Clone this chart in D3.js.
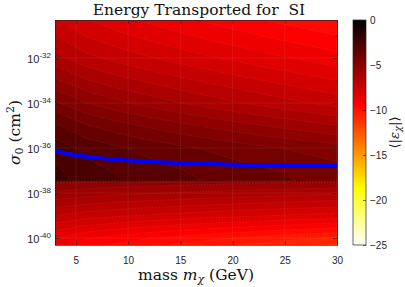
<!DOCTYPE html>
<html>
<head>
<meta charset="utf-8">
<script src="https://cdn.jsdelivr.net/npm/d3@7"></script>
<style>
  body { margin: 0; background: #fff; }
  svg { display: block; }
  .tick text { font-family: "Liberation Sans", Arial, sans-serif; font-size: 10px; fill: #262626; }
</style>
</head>
<body>
<svg id="chart" width="405" height="287"></svg>
<script>
// grid of the field (rows = log10 sigma, cols = mass)
const masses = [3, 6, 9, 12, 15, 18, 21, 24, 27, 30]
const logSigma = [-40.5, -40, -39, -38, -37.55, -37.45, -37, -36, -35, -34, -33, -32, -31, -30]
const energy = [
  [-9.0, -9.52, -9.84, -10.11, -10.36, -10.59, -10.81, -11.01, -11.21, -11.4],
  [-8.5, -8.95, -9.23, -9.47, -9.69, -9.89, -10.08, -10.26, -10.43, -10.6],
  [-7.0, -7.26, -7.42, -7.56, -7.68, -7.80, -7.90, -8.01, -8.11, -8.2],
  [-5.6, -5.77, -5.88, -5.97, -6.05, -6.13, -6.20, -6.27, -6.34, -6.4],
  [-5.0, -5.13, -5.21, -5.28, -5.34, -5.40, -5.45, -5.50, -5.55, -5.6],
  [-2.3, -2.71, -2.96, -3.18, -3.38, -3.56, -3.73, -3.89, -4.05, -4.2],
  [-2.4, -2.81, -3.06, -3.28, -3.48, -3.66, -3.83, -3.99, -4.15, -4.3],
  [-2.7, -3.15, -3.43, -3.67, -3.89, -4.09, -4.28, -4.46, -4.63, -4.8],
  [-3.4, -3.96, -4.31, -4.60, -4.87, -5.12, -5.36, -5.58, -5.79, -6.0],
  [-4.4, -5.0, -5.38, -5.70, -5.99, -6.26, -6.51, -6.75, -6.98, -7.2],
  [-5.4, -5.96, -6.31, -6.60, -6.87, -7.12, -7.36, -7.58, -7.79, -8.0],
  [-6.3, -6.84, -7.17, -7.46, -7.72, -7.96, -8.18, -8.40, -8.60, -8.8],
  [-7.0, -7.54, -7.87, -8.16, -8.42, -8.66, -8.88, -9.10, -9.30, -9.5],
  [-7.6, -8.16, -8.51, -8.80, -9.07, -9.32, -9.56, -9.78, -9.99, -10.2]
]
// blue curve
const lineMass = [3, 5, 7.5, 10, 12.5, 15, 20, 25, 30]
const lineLogSigma = [-36.13, -36.32, -36.46, -36.55, -36.62, -36.67, -36.74, -36.78, -36.8]

const xTicks = [5, 10, 15, 20, 25, 30]
const yTickExp = [-40, -38, -36, -34, -32]
const yMinorExp = [-39, -37, -35, -33, -31]
const cbTicks = [0, -5, -10, -15, -20, -25]

const plot = {left: 55, right: 337, top: 20, bottom: 245}
const cb = {left: 353, right: 366}
const serif = '"DejaVu Serif", "Liberation Serif", serif'

let svg = d3.select('#chart')

let x = d3.scaleLinear().domain([3, 30]).range([plot.left, plot.right])
let y = d3.scaleLog().domain([Math.pow(10, -40.31), Math.pow(10, -30.31)]).range([plot.bottom, plot.top])

// reversed "hot" colormap, 0 -> black, -25 -> white
function hotR(v) {
  let s = Math.max(0, Math.min(1, -v / 25))
  let r = Math.min(1, s / 0.375)
  let g = Math.max(0, Math.min(1, (s - 0.375) / 0.375))
  let b = Math.max(0, Math.min(1, (s - 0.75) / 0.25))
  return d3.rgb(r * 255, g * 255, b * 255).toString()
}

svg.append('defs').append('clipPath').attr('id', 'clip')
  .append('rect')
  .attr('x', plot.left).attr('y', plot.top)
  .attr('width', plot.right - plot.left).attr('height', plot.bottom - plot.top)

// filled contours
let nx = masses.length, ny = logSigma.length
let flat = []
for (let j = 0; j < ny; j++) for (let i = 0; i < nx; i++) flat.push(energy[j][i])

let thresholds = d3.range(-25, 0, 0.5)
let contours = d3.contours().size([nx, ny]).thresholds(thresholds)(flat)

let mIdx = d3.scaleLinear().domain(d3.range(nx)).range(masses)
let lIdx = d3.scaleLinear().domain(d3.range(ny)).range(logSigma)
let proj = d3.geoTransform({
  point: function(px, py) {
    this.stream.point(x(mIdx(px - 0.5)), y(Math.pow(10, lIdx(py - 0.5))))
  }
})
let path = d3.geoPath(proj)

let field = svg.append('g').attr('clip-path', 'url(#clip)')
field.append('rect')
  .attr('x', plot.left).attr('y', plot.top)
  .attr('width', plot.right - plot.left).attr('height', plot.bottom - plot.top)
  .attr('fill', hotR(-12))
field.selectAll('path.band')
  .data(contours)
  .enter()
  .append('path')
  .attr('class', 'band')
  .attr('d', path)
  .attr('fill', d => hotR(d.value + 0.25))
  .attr('stroke', 'rgba(255,255,255,0.13)')
  .attr('stroke-width', 0.6)
  .attr('stroke-dasharray', '1.5 1.5')

// faint grid
field.selectAll('line.gx')
  .data(xTicks)
  .enter().append('line')
  .attr('x1', d => x(d)).attr('x2', d => x(d))
  .attr('y1', plot.top).attr('y2', plot.bottom)
  .attr('stroke', 'rgba(255,255,255,0.09)').attr('stroke-width', 0.8)
field.selectAll('line.gy')
  .data(yTickExp)
  .enter().append('line')
  .attr('y1', d => y(Math.pow(10, d))).attr('y2', d => y(Math.pow(10, d)))
  .attr('x1', plot.left).attr('x2', plot.right)
  .attr('stroke', 'rgba(255,255,255,0.09)').attr('stroke-width', 0.8)

// blue line
let line = d3.line()
  .x((d, i) => x(lineMass[i]))
  .y((d, i) => y(Math.pow(10, lineLogSigma[i])))
  .curve(d3.curveNatural)
field.append('path')
  .attr('d', line(lineMass))
  .attr('fill', 'none')
  .attr('stroke', '#0000ff')
  .attr('stroke-width', 4)

// axes (box with inward ticks)
let axisColor = '#262626'
svg.append('g').attr('transform', `translate(0,${plot.bottom})`)
  .call(d3.axisBottom(x).tickValues(xTicks).tickSizeInner(-4).tickSizeOuter(0).tickPadding(12))
svg.append('g').attr('transform', `translate(0,${plot.top})`)
  .call(d3.axisTop(x).tickValues(xTicks).tickSizeInner(-4).tickSizeOuter(0).tickFormat(''))

let yAll = yTickExp.map(e => Math.pow(10, e))
let yMinor = yMinorExp.map(e => Math.pow(10, e))
svg.append('g').attr('transform', `translate(${plot.left},0)`)
  .call(d3.axisLeft(y).tickValues(yAll).tickSizeInner(-4).tickSizeOuter(0).tickFormat(''))
svg.append('g').attr('transform', `translate(${plot.right},0)`)
  .call(d3.axisRight(y).tickValues(yAll).tickSizeInner(-4).tickSizeOuter(0).tickFormat(''))
svg.append('g').attr('transform', `translate(${plot.left},0)`)
  .call(d3.axisLeft(y).tickValues(yMinor).tickSizeInner(-2).tickSizeOuter(0).tickFormat(''))
svg.append('g').attr('transform', `translate(${plot.right},0)`)
  .call(d3.axisRight(y).tickValues(yMinor).tickSizeInner(-2).tickSizeOuter(0).tickFormat(''))
svg.selectAll('.domain, .tick line').attr('stroke', axisColor).attr('stroke-width', 0.7)

// y tick labels with superscripts
let yl = svg.append('g')
  .style('font-family', '"Liberation Sans", Arial, sans-serif')
  .style('fill', '#262626')
yl.selectAll('text')
  .data(yTickExp)
  .enter().append('text')
  .attr('text-anchor', 'end')
  .attr('x', 51)
  .attr('y', d => y(Math.pow(10, d)) + 5)
  .each(function(d) {
    let t = d3.select(this)
    t.append('tspan').attr('font-size', '11px').text('10')
    t.append('tspan').attr('font-size', '8px').attr('dy', -5).text(d)
  })

// titles
svg.append('text')
  .attr('x', (plot.left + plot.right) / 2 + 3).attr('y', 15)
  .attr('text-anchor', 'middle')
  .style('font-family', serif)
  .style('font-size', '15.5px').style('fill', '#111')
  .text('Energy Transported for \u00a0SI')

let xl = svg.append('text')
  .attr('x', (plot.left + plot.right) / 2).attr('y', 280)
  .attr('text-anchor', 'middle')
  .style('font-family', serif)
  .style('font-size', '15.5px').style('fill', '#111')
xl.append('tspan').text('mass ')
xl.append('tspan').attr('font-style', 'italic').text('m')
xl.append('tspan').attr('font-style', 'italic').attr('font-size', '11px').attr('dy', 3).text('\u03c7')
xl.append('tspan').attr('dy', -3).text(' (GeV)')

let ylab = svg.append('text')
  .attr('transform', `translate(20,${(plot.top + plot.bottom) / 2}) rotate(-90)`)
  .attr('text-anchor', 'middle')
  .style('font-family', serif)
  .style('font-size', '15.5px').style('fill', '#111')
ylab.append('tspan').attr('font-style', 'italic').text('\u03c3')
ylab.append('tspan').attr('font-size', '11px').attr('dy', 3).text('0')
ylab.append('tspan').attr('dy', -3).text(' (cm')
ylab.append('tspan').attr('font-size', '11px').attr('dy', -6).text('2')
ylab.append('tspan').attr('dy', 6).text(')')

// colorbar
let c = d3.scaleLinear().domain([-25, 0]).range([plot.bottom, plot.top])
let grad = svg.select('defs').append('linearGradient')
  .attr('id', 'cbgrad').attr('x1', 0).attr('y1', 1).attr('x2', 0).attr('y2', 0)
grad.selectAll('stop')
  .data(d3.range(0, 1.0001, 0.025))
  .enter().append('stop')
  .attr('offset', d => d)
  .attr('stop-color', d => hotR(-25 + 25 * d))
svg.append('rect')
  .attr('x', cb.left).attr('y', plot.top)
  .attr('width', cb.right - cb.left).attr('height', plot.bottom - plot.top)
  .attr('fill', 'url(#cbgrad)')
  .attr('stroke', axisColor).attr('stroke-width', 0.7)
let gc = svg.append('g').attr('transform', `translate(${cb.right},0)`)
  .call(d3.axisRight(c).tickValues(cbTicks).tickSizeInner(-3).tickSizeOuter(0).tickPadding(4))
gc.select('.domain').remove()
gc.selectAll('.tick line').attr('stroke', axisColor).attr('stroke-width', 0.7)

let cl = svg.append('text')
  .attr('transform', `translate(399,${(plot.top + plot.bottom) / 2}) rotate(-90)`)
  .attr('text-anchor', 'middle')
  .style('font-family', serif)
  .style('font-size', '13px').style('fill', '#111')
cl.append('tspan').text('\u27e8|')
cl.append('tspan').attr('font-style', 'italic').text('\u03b5')
cl.append('tspan').attr('font-style', 'italic').attr('font-size', '10px').attr('dy', 2).text('\u03c7')
cl.append('tspan').attr('dy', -2).text('|\u27e9')
</script>
</body>
</html>
